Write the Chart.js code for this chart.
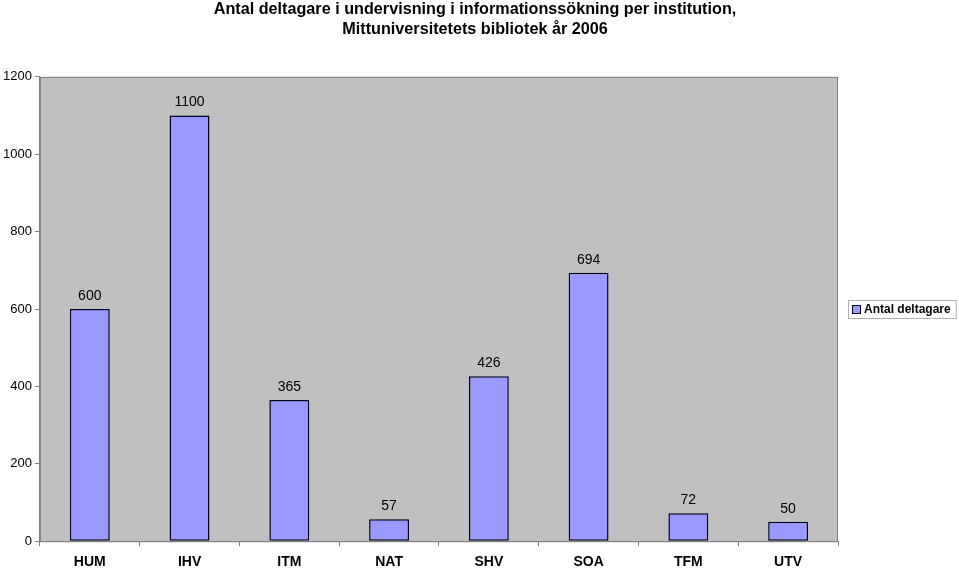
<!DOCTYPE html>
<html>
<head>
<meta charset="utf-8">
<script src="https://cdn.jsdelivr.net/npm/chart.js@4/dist/chart.umd.min.js"></script>
<style>
  html, body { margin: 0; padding: 0; background: #fff; }
  #wrap { width: 959px; height: 568px; }
</style>
</head>
<body>
<div id="wrap"><canvas id="chart" width="959" height="568"></canvas></div>
<script>
const categories = ["HUM", "IHV", "ITM", "NAT", "SHV", "SOA", "TFM", "UTV"];
const participants = [600, 1100, 365, 57, 426, 694, 72, 50];
const seriesName = "Antal deltagare";
const titleLines = [
  "Antal deltagare i undervisning i informationssökning per institution,",
  "Mittuniversitetets bibliotek år 2006"
];

const FONT = "'Liberation Sans', Arial, sans-serif";

// gray plot background + border
const plotArea = {
  id: "plotArea",
  afterLayout(chart) {
    // centre the title over the whole picture, not only the padded box
    if (chart.titleBlock) {
      chart.titleBlock.left = 0;
      chart.titleBlock.right = 950;
    }
  },
  beforeDraw(chart) {
    const { ctx, chartArea: a } = chart;
    ctx.save();
    ctx.fillStyle = "#c0c0c0";
    ctx.fillRect(a.left, a.top, a.right - a.left, a.bottom - a.top);
    ctx.strokeStyle = "#808080";
    ctx.lineWidth = 1;
    ctx.strokeRect(a.left + 0.5, a.top + 0.5, a.right - a.left - 1, a.bottom - a.top);
    ctx.restore();
  },
};

// value labels above each bar
const valueLabels = {
  id: "valueLabels",
  afterDatasetsDraw(chart) {
    const { ctx } = chart;
    const meta = chart.getDatasetMeta(0);
    ctx.save();
    ctx.font = "14px " + FONT;
    ctx.fillStyle = "#000";
    ctx.textAlign = "center";
    ctx.textBaseline = "bottom";
    meta.data.forEach((bar, i) => {
      ctx.fillText(String(chart.data.datasets[0].data[i]), bar.x, bar.y - 6);
    });
    ctx.restore();
  },
};

// boxed legend to the right of the plot, centred on it
const boxLegend = {
  id: "boxLegend",
  afterDraw(chart) {
    const { ctx, chartArea: a } = chart;
    const ds = chart.data.datasets[0];
    const cy = Math.round((a.top + a.bottom) / 2);
    const left = a.right + 10;
    ctx.save();
    ctx.font = "bold 12px " + FONT;
    const tw = ctx.measureText(ds.label).width;
    const w = tw + 21;
    ctx.fillStyle = "#fff";
    ctx.fillRect(left, cy - 9, w, 18);
    ctx.strokeStyle = "#b0b0b0";
    ctx.lineWidth = 1;
    ctx.strokeRect(left + 0.5, cy - 8.5, w, 18);
    ctx.fillStyle = ds.backgroundColor;
    ctx.fillRect(left + 4, cy - 4, 9, 9);
    ctx.strokeStyle = ds.borderColor;
    ctx.strokeRect(left + 4.5, cy - 3.5, 8, 8);
    ctx.fillStyle = "#000";
    ctx.textBaseline = "middle";
    ctx.fillText(ds.label, left + 16, cy + 1);
    ctx.restore();
  },
};

new Chart(document.getElementById("chart"), {
  type: "bar",
  data: {
    labels: categories,
    datasets: [{
      label: seriesName,
      data: participants,
      backgroundColor: "#9999ff",
      borderColor: "#000020",
      borderWidth: 1.5,
      borderSkipped: false,
      categoryPercentage: 1,
      barPercentage: 0.4,
    }],
  },
  options: {
    responsive: false,
    animation: false,
    layout: { padding: { top: 0, right: 121, bottom: -11, left: 0 } },
    plugins: {
      title: {
        display: true,
        text: titleLines,
        color: "#000",
        font: { family: FONT, size: 16.2, weight: "bold", lineHeight: 1.2 },
        padding: { top: 0, bottom: 38 },
      },
      legend: { display: false },
      tooltip: { enabled: false },
    },
    scales: {
      x: {
        grid: {
          offset: true,
          drawOnChartArea: false,
          drawTicks: true,
          tickLength: 5,
          color: "#808080",
        },
        border: { color: "#808080" },
        ticks: {
          color: "#000",
          font: { family: FONT, size: 14, weight: "bold" },
          padding: 8,
        },
      },
      y: {
        min: 0,
        max: 1200,
        ticks: {
          stepSize: 200,
          color: "#000",
          font: { family: FONT, size: 13 },
          padding: 3,
          callback: (v) => String(v),
        },
        grid: {
          drawOnChartArea: false,
          drawTicks: true,
          tickLength: 5,
          color: "#808080",
        },
        border: { color: "#808080" },
      },
    },
  },
  plugins: [plotArea, valueLabels, boxLegend],
});
</script>
</body>
</html>
